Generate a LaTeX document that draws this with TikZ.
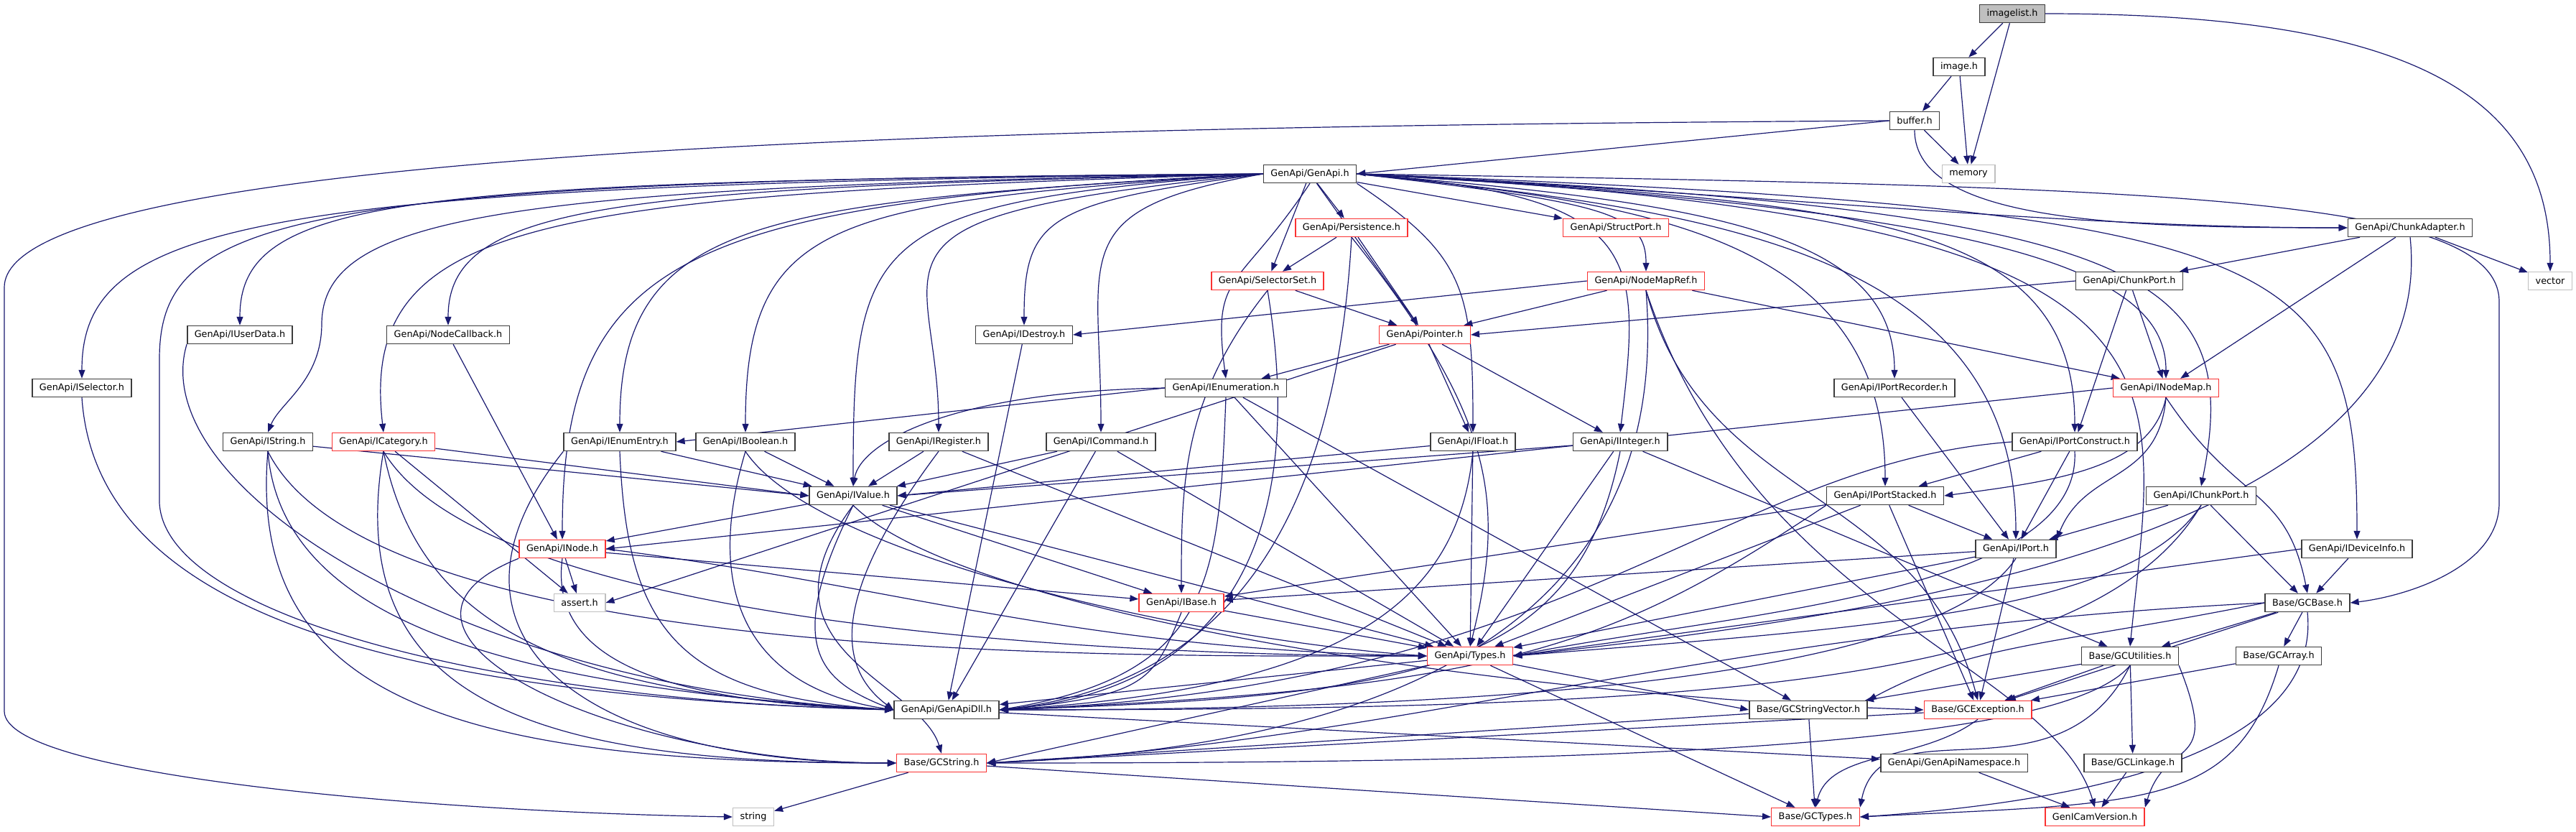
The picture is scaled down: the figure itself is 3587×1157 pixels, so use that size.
\documentclass[tikz,border=0pt]{standalone}
\usepackage{fontspec}
\setmainfont{DejaVu Sans}
\usetikzlibrary{arrows.meta}
\definecolor{edgeblue}{RGB}{25,25,112}
\definecolor{boxred}{RGB}{250,50,50}
\definecolor{boxgray}{RGB}{191,191,191}
\definecolor{boxblack}{RGB}{60,60,60}
\pgfdeclarelayer{bg}
\pgfsetlayers{bg,main}
\begin{document}
\begin{tikzpicture}[x=1pt,y=-1pt,
  box/.style={rectangle, line width=1.5pt, fill=white, inner xsep=10pt, inner ysep=0pt, minimum height=25pt, font=\fontsize{12.8}{14}\selectfont},
  nb/.style={box, draw=boxblack},
  nr/.style={box, draw=boxred},
  ng/.style={box, draw=boxgray},
  e/.style={draw=edgeblue, line width=1.2pt, -{Triangle[length=12pt,width=9pt]}}]
\useasboundingbox (0,0) rectangle (3587,1157);
\node[nb, fill=boxgray] (imagelist) at (2802,19) {imagelist.h};
\node[nb] (image) at (2728,93) {image.h};
\node[nb] (buffer) at (2666,168) {buffer.h};
\node[ng] (memory) at (2741,242) {memory};
\node[nb] (genapi) at (1824,242) {GenApi/GenApi.h};
\node[nr] (persist) at (1882,317) {GenApi/Persistence.h};
\node[nr] (structport) at (2250,317) {GenApi/StructPort.h};
\node[nb] (chunkadapter) at (3356,317) {GenApi/ChunkAdapter.h};
\node[nr] (selectorset) at (1765,391) {GenApi/SelectorSet.h};
\node[nr] (nodemapref) at (2292,391) {GenApi/NodeMapRef.h};
\node[nb] (chunkport) at (2965,391) {GenApi/ChunkPort.h};
\node[ng] (vector) at (3551,391) {vector};
\node[nb] (iuserdata) at (334,466) {GenApi/IUserData.h};
\node[nb] (nodecallback) at (624,466) {GenApi/NodeCallback.h};
\node[nb] (idestroy) at (1426,466) {GenApi/IDestroy.h};
\node[nr] (pointer) at (1984,466) {GenApi/Pointer.h};
\node[nb] (iselector) at (114,540) {GenApi/ISelector.h};
\node[nb] (ienumeration) at (1707,540) {GenApi/IEnumeration.h};
\node[nb] (iportrecorder) at (2638,540) {GenApi/IPortRecorder.h};
\node[nr] (inodemap) at (3016,540) {GenApi/INodeMap.h};
\node[nb] (istring) at (373,615) {GenApi/IString.h};
\node[nr] (icategory) at (534,615) {GenApi/ICategory.h};
\node[nb] (ienumentry) at (863,615) {GenApi/IEnumEntry.h};
\node[nb] (iboolean) at (1038,615) {GenApi/IBoolean.h};
\node[nb] (iregister) at (1307,615) {GenApi/IRegister.h};
\node[nb] (icommand) at (1533,615) {GenApi/ICommand.h};
\node[nb] (ifloat) at (2051,615) {GenApi/IFloat.h};
\node[nb] (iinteger) at (2256,615) {GenApi/IInteger.h};
\node[nb] (iportconstruct) at (2889,615) {GenApi/IPortConstruct.h};
\node[nb] (ivalue) at (1188,690) {GenApi/IValue.h};
\node[nb] (iportstacked) at (2625,690) {GenApi/IPortStacked.h};
\node[nb] (ichunkport) at (3065,690) {GenApi/IChunkPort.h};
\node[nr] (inode) at (783,764) {GenApi/INode.h};
\node[nb] (iport) at (2807,764) {GenApi/IPort.h};
\node[nb] (ideviceinfo) at (3282,764) {GenApi/IDeviceInfo.h};
\node[ng] (assert) at (807,839) {assert.h};
\node[nr] (ibase) at (1645,839) {GenApi/IBase.h};
\node[nb] (gcbase) at (3213,839) {Base/GCBase.h};
\node[nr] (types) at (2047,913) {GenApi/Types.h};
\node[nb] (gcutil) at (2966,913) {Base/GCUtilities.h};
\node[nb] (gcarray) at (3173,913) {Base/GCArray.h};
\node[nb] (genapidll) at (1318,988) {GenApi/GenApiDll.h};
\node[nb] (gcsv) at (2518,988) {Base/GCStringVector.h};
\node[nr] (gcexc) at (2754,988) {Base/GCException.h};
\node[nr] (gcstring) at (1311,1062) {Base/GCString.h};
\node[nb] (gans) at (2721,1062) {GenApi/GenApiNamespace.h};
\node[nb] (gclink) at (2970,1062) {Base/GCLinkage.h};
\node[ng] (string) at (1049,1137) {string};
\node[nr] (gctypes) at (2528,1137) {Base/GCTypes.h};
\node[nr] (gicv) at (2917,1137) {GenICamVersion.h};
\begin{pgfonlayer}{bg}
% top
\draw[e] (imagelist) -- (image);
\draw[e] (imagelist) -- (memory);
\draw[e] (imagelist.east) .. controls +(500,0) and +(0,-250) .. (vector.north);
\draw[e] (image) -- (buffer);
\draw[e] (image) -- (memory);
\draw[e] (buffer) -- (memory);
\draw[e] (buffer.west) -- (genapi.east);
\draw[e] (buffer.west) .. controls (1500,175) and (6,200) .. (6,400) -- (6,990) .. controls (6,1080) and (600,1130) .. (string.west);
\draw[e] (buffer.south) .. controls +(0,130) and +(-300,0) .. (chunkadapter.west);
% GenApi.h
\draw[e] (genapi.west) .. controls +(-1400,15) and +(0,-220) .. (iselector.north);
\draw[e] (genapi.west) .. controls +(-1200,10) and +(0,-180) .. (iuserdata.north);
\draw[e] (genapi.west) .. controls +(-900,20) and +(0,-170) .. (nodecallback.north);
\draw[e] (genapi.west) .. controls (700,260) and (450,300) .. (448,450) .. controls (448,530) and (390,560) .. (istring.north);
\draw[e] (genapi.west) .. controls +(-1000,30) and +(-35,-300) .. (icategory.north);
\draw[e] (genapi.west) .. controls +(-700,40) and +(0,-300) .. (ienumentry.north);
\draw[e] (genapi.west) .. controls +(-600,40) and +(0,-300) .. (iboolean.north);
\draw[e] (genapi.west) .. controls +(-550,40) and +(0,-350) .. (ivalue.north);
\draw[e] (genapi.west) .. controls +(-800,40) and +(0,-400) .. (inode.north);
\draw[e] (genapi.west) .. controls (400,250) and (222,300) .. (222,500) -- (222,700) .. controls (230,860) and (700,975) .. (genapidll.west);
\draw[e] (genapi.west) .. controls +(-600,60) and +(0,-250) .. (iregister.north);
\draw[e] (genapi.west) .. controls +(-280,50) and +(0,-250) .. (icommand.north);
\draw[e] (genapi.west) .. controls +(-300,40) and +(0,-150) .. (idestroy.north);
\draw[e] (genapi) -- (persist);
\draw[e] (genapi) -- (selectorset);
\draw[e] (genapi) -- (pointer);
\draw[e] (genapi.south) .. controls +(-100,150) and +(-20,-150) .. (ienumeration.north);
\draw[e] (genapi.south east) .. controls +(150,100) and +(0,-200) .. (ifloat.north);
\draw[e] (genapi.east) .. controls +(400,30) and +(30,-250) .. (iinteger.north);
\draw[e] (genapi) -- (structport);
\draw[e] (genapi.east) .. controls +(350,40) and +(0,-80) .. (nodemapref.north);
\draw[e] (genapi.east) .. controls +(600,30) and +(-400,0) .. (chunkadapter.west);
\draw[e] (genapi.east) .. controls +(500,40) and +(0,-200) .. (iportrecorder.north);
\draw[e] (genapi.east) .. controls +(900,50) and +(0,-150) .. (inodemap.north);
\draw[e] (genapi.east) .. controls +(700,40) and +(0,-300) .. (iportconstruct.north);
\draw[e] (genapi.east) .. controls +(400,40) and +(0,-350) .. (iportstacked.north);
\draw[e] (genapi.east) .. controls +(500,50) and +(0,-400) .. (iport.north);
\draw[e] (genapi.east) .. controls +(1100,50) and +(60,-300) .. (ichunkport.north);
\draw[e] (genapi.east) .. controls +(1300,50) and +(0,-400) .. (ideviceinfo.north);
\draw[e] (genapi.east) .. controls +(1200,60) and +(40,-400) .. (gcutil.north);
\draw[e] (genapi.east) .. controls (3000,260) and (3480,270) .. (3480,420) -- (3480,700) .. controls (3480,790) and (3350,830) .. (gcbase.east);
% Persistence, SelectorSet, NodeMapRef
\draw[e] (persist) -- (selectorset);
\draw[e] (persist) -- (pointer);
\draw[e] (persist.south) .. controls +(-20,350) and +(350,-40) .. (genapidll.east);
\draw[e] (persist.south) .. controls +(200,250) and +(50,-200) .. (types.north);
\draw[e] (selectorset) -- (pointer);
\draw[e] (selectorset.south) .. controls +(-120,150) and +(0,-150) .. (ibase.north);
\draw[e] (selectorset.south) .. controls +(50,300) and +(350,-30) .. (genapidll.east);
\draw[e] (nodemapref.west) -- (idestroy.east);
\draw[e] (nodemapref) -- (pointer);
\draw[e] (nodemapref) -- (inodemap);
\draw[e] (nodemapref.south) .. controls +(40,500) and +(500,-20) .. (gcstring.east);
\draw[e] (nodemapref.south) .. controls +(80,300) and +(-80,-300) .. (gcexc.north);
\draw[e] (nodemapref.south) .. controls +(150,450) and +(-60,-200) .. (gicv.north);
% ChunkAdapter, ChunkPort
\draw[e] (chunkadapter) -- (chunkport);
\draw[e] (chunkadapter) -- (inodemap);
\draw[e] (chunkadapter) -- (vector);
\draw[e] (chunkadapter.south) .. controls (3400,750) and (2600,860) .. (types.east);
\draw[e] (chunkport.west) -- (pointer.east);
\draw[e] (chunkport) -- (inodemap);
\draw[e] (chunkport) -- (iportconstruct);
% row 6/7
\draw[e] (iuserdata.south west) .. controls +(-60,200) and +(-600,-30) .. (genapidll.west);
\draw[e] (nodecallback) -- (inode);
\draw[e] (idestroy) -- (genapidll);
\draw[e] (pointer) -- (ienumeration);
\draw[e] (pointer) -- (ifloat);
\draw[e] (pointer) -- (iinteger);
\draw[e] (pointer) -- (assert.east);
\draw[e] (iselector.south) .. controls +(20,300) and +(-700,-20) .. (genapidll.west);
\draw[e] (ienumeration.west) -- (ienumentry.east);
\draw[e] (ienumeration.west) .. controls +(-300,5) and +(10,-60) .. (ivalue.north);
\draw[e] (ienumeration.south) .. controls +(-10,250) and +(300,-50) .. (genapidll.east);
\draw[e] (ienumeration) -- (types);
\draw[e] (ienumeration) -- (gcsv);
\draw[e] (iportrecorder) -- (iport);
\draw[e] (inodemap.west) -- (inode.east);
\draw[e] (inodemap.south) .. controls +(-20,100) and +(150,-20) .. (iportstacked.east);
\draw[e] (inodemap.south) .. controls +(-10,120) and +(40,-100) .. (iport.north east);
\draw[e] (inodemap.south) .. controls +(100,150) and +(-30,-150) .. (gcbase.north);
% row 8
\draw[e] (istring) -- (ivalue.west);
\draw[e] (istring.south) .. controls +(-30,350) and +(-600,0) .. (gcstring.west);
\draw[e] (istring.south) .. controls +(20,250) and +(-500,-30) .. (genapidll.west);
\draw[e] (istring.south) .. controls +(150,300) and +(-400,0) .. (types.west);
\draw[e] (icategory) -- (ivalue.west);
\draw[e] (icategory) -- (assert);
\draw[e] (icategory.south) .. controls +(-60,350) and +(-500,0) .. (gcstring.west);
\draw[e] (icategory.south) .. controls +(50,250) and +(-450,-20) .. (genapidll.west);
\draw[e] (icategory.south) .. controls +(150,250) and +(-400,0) .. (types.west);
\draw[e] (ienumentry) -- (ivalue);
\draw[e] (ienumentry.south) .. controls +(10,250) and +(-300,-20) .. (genapidll.west);
\draw[e] (ienumentry.south west) .. controls +(-200,250) and +(-450,0) .. (gcstring.west);
\draw[e] (iboolean) -- (ivalue);
\draw[e] (iboolean.south) .. controls +(-60,200) and +(-200,-30) .. (genapidll.west);
\draw[e] (iboolean.south) .. controls +(100,150) and +(-300,-20) .. (types.west);
\draw[e] (iregister) -- (ivalue);
\draw[e] (iregister.south) .. controls +(-150,200) and +(-80,-60) .. (genapidll.west);
\draw[e] (iregister) -- (types);
\draw[e] (icommand) -- (ivalue);
\draw[e] (icommand) -- (genapidll);
\draw[e] (icommand) -- (types);
\draw[e] (ifloat) -- (ivalue.east);
\draw[e] (ifloat) -- (types);
\draw[e] (ifloat.south) .. controls +(-20,200) and +(500,-30) .. (genapidll.east);
\draw[e] (iinteger) -- (ivalue.east);
\draw[e] (iinteger) -- (types);
\draw[e] (iinteger.south) .. controls +(-60,300) and +(600,-20) .. (genapidll.east);
\draw[e] (iinteger) -- (gcutil);
\draw[e] (iportconstruct) -- (iportstacked);
\draw[e] (iportconstruct) -- (iport);
\draw[e] (iportconstruct.west) .. controls +(-400,30) and +(800,-30) .. (genapidll.east);
\draw[e] (iportconstruct.south) .. controls +(10,200) and +(300,-60) .. (types.east);
% row 9/10
\draw[e] (ivalue) -- (inode);
\draw[e] (ivalue) -- (ibase);
\draw[e] (ivalue) -- (types);
\draw[e] (ivalue.south) .. controls +(-100,200) and +(-100,-40) .. (genapidll.west);
\draw[e] (ivalue.south) .. controls +(-150,200) and +(-30,-100) .. (gcstring.north);
\draw[e] (ivalue.south) .. controls +(150,150) and +(-600,-20) .. (gcexc.west);
\draw[e] (inode) -- (assert);
\draw[e] (inode) -- (ibase);
\draw[e] (inode.east) .. controls +(400,50) and +(-500,-10) .. (types.west);
\draw[e] (inode.south) .. controls +(-20,150) and +(-300,-10) .. (genapidll.west);
\draw[e] (inode.south west) .. controls +(-250,100) and +(-400,0) .. (gcstring.west);
\draw[e] (ibase) -- (types);
\draw[e] (ibase.south) .. controls +(-40,100) and +(200,-20) .. (genapidll.east);
\draw[e] (iportstacked) -- (iport);
\draw[e] (iportstacked) -- (ibase);
\draw[e] (iportstacked.south west) .. controls +(-300,200) and +(700,-30) .. (genapidll.east);
\draw[e] (iportstacked) -- (types);
\draw[e] (iportstacked) -- (gcexc);
\draw[e] (ichunkport) -- (iport);
\draw[e] (ichunkport) -- (gcbase);
\draw[e] (ichunkport.south) .. controls +(-150,250) and +(1000,0) .. (genapidll.east);
\draw[e] (ichunkport.south) .. controls +(-100,150) and +(500,-40) .. (types.east);
\draw[e] (iport) -- (ibase);
\draw[e] (iport) -- (types);
\draw[e] (iport.south) .. controls +(-100,150) and +(800,0) .. (genapidll.east);
\draw[e] (iport) -- (gcexc);
\draw[e] (ideviceinfo) -- (gcbase);
\draw[e] (ideviceinfo.west) -- (types.east);
% Base
\draw[e] (gcbase) -- (gcutil);
\draw[e] (gcbase) -- (gcarray);
\draw[e] (gcbase.west) .. controls +(-300,60) and +(150,-80) .. (gcsv.north east);
\draw[e] (gcbase) -- (gcexc);
\draw[e] (gcbase.south) .. controls +(20,200) and +(300,-20) .. (gctypes.east);
\draw[e] (gcbase.west) .. controls +(-800,40) and +(600,-30) .. (gcstring.east);
\draw[e] (gcutil) -- (gcsv);
\draw[e] (gcutil) -- (gcexc);
\draw[e] (gcutil) -- (gclink);
\draw[e] (gcutil.south east) .. controls +(60,150) and +(30,-100) .. (gicv.north east);
\draw[e] (gcutil.south) .. controls +(-100,120) and +(800,0) .. (gcstring.east);
\draw[e] (gcutil.south) .. controls +(-100,200) and +(30,-150) .. (gctypes.north east);
\draw[e] (gcarray) -- (gcexc);
\draw[e] (gcarray.south) .. controls +(-60,200) and +(400,-20) .. (gctypes.east);
\draw[e] (genapidll) -- (gans);
\draw[e] (types) -- (genapidll);
\draw[e] (types) -- (gctypes);
\draw[e] (types) -- (gcsv.west);
\draw[e] (types) -- (gcstring.east);
\draw[e] (gcsv) -- (gcstring.east);
\draw[e] (gcsv) -- (gctypes);
\draw[e] (gcexc) -- (gcstring.east);
\draw[e] (gcexc.south) .. controls +(-80,60) and +(20,-80) .. (gctypes.north);
\draw[e] (gcstring) -- (string);
\draw[e] (gcstring) -- (gctypes.west);
\draw[e] (gans) -- (gicv);
\draw[e] (gclink) -- (gicv);
\end{pgfonlayer}
\end{tikzpicture}
\end{document}
